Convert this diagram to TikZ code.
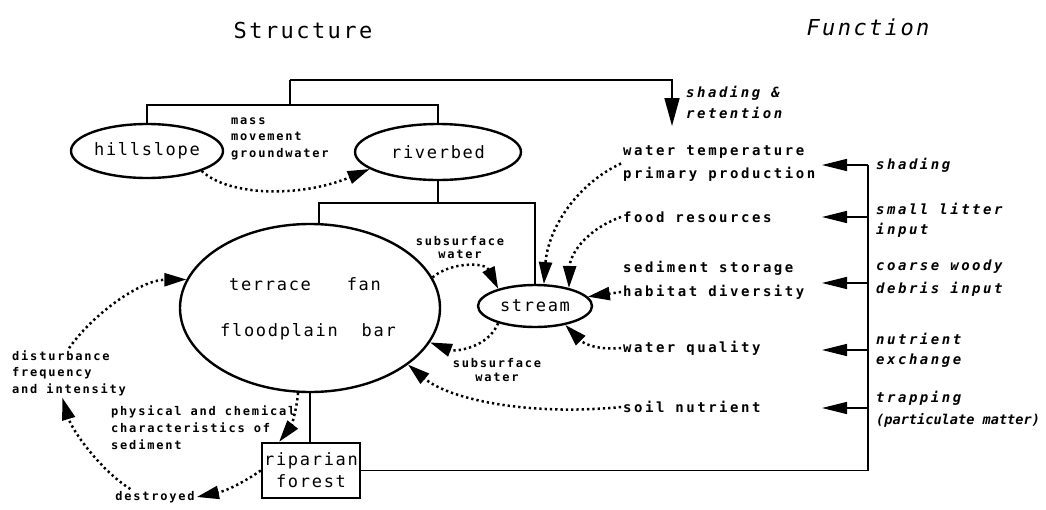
\documentclass[tikz,border=0pt]{standalone}
\usepackage{fontspec}
\usetikzlibrary{shapes.geometric,arrows.meta}
\newfontfamily\fnTitle{DejaVu Sans Mono}[LetterSpace=11]
\newfontfamily\fnBig{DejaVu Sans Mono}[LetterSpace=10]
\newfontfamily\fnMid{DejaVu Sans Mono}[LetterSpace=18]
\newfontfamily\fnTight{DejaVu Sans Mono}[LetterSpace=0]
\newfontfamily\fnSmall{DejaVu Sans Mono}[LetterSpace=15]
\begin{document}
\begin{tikzpicture}[x=1pt,y=-1pt,
  every node/.style={inner sep=2pt},
  line/.style={line width=1.6pt},
  oval/.style={ellipse, draw, line width=2.4pt, inner sep=0pt},
  box/.style={rectangle, draw, line width=2.4pt, inner sep=0pt, align=center},
  dotarrow/.style={line width=2.5pt, dash pattern=on 2.3pt off 3pt,
    -{Triangle[length=22pt,width=13pt]}},
  solidarrow/.style={line width=1.6pt, -{Triangle[length=25pt,width=12pt]}},
  titletext/.style={font=\fontsize{22}{26}\selectfont\fnTitle},
  bigtext/.style={font=\fontsize{17}{22}\selectfont\fnBig},
  midtext/.style={font=\fontsize{14}{23}\selectfont\fnMid\bfseries, align=left},
  ittext/.style={font=\fontsize{14}{21}\selectfont\fnMid\bfseries\itshape, align=left},
  smalltext/.style={font=\fontsize{12}{16.5}\selectfont\fnSmall\bfseries, align=left},
]
\useasboundingbox[fill=white] (0,0) rectangle (1046,509);

% column headings
\node[titletext] (tstruct) at (303,30) {Structure};
\node[titletext, font=\fontsize{22}{26}\selectfont\fnTitle\itshape] (tfunc) at (868,27) {Function};

% structure: landforms
\node[oval, bigtext, minimum width=152pt, minimum height=54pt] (hill) at (147,151) {hillslope};
\node[oval, bigtext, minimum width=166pt, minimum height=56pt] (riv) at (438,152) {riverbed};
\node[oval, minimum width=260pt, minimum height=168pt] (flood) at (310,308) {};
\node[bigtext] (fl1) at (305,284) {terrace\ \ \ fan};
\node[bigtext] (fl2) at (308,332) {floodplain\ \ bar};
\node[oval, bigtext, minimum width=114pt, minimum height=42pt] (stream) at (535,306) {stream};
\node[box, bigtext, minimum width=98pt, minimum height=55pt,
      font=\fontsize{17}{22}\selectfont\fnBig] (forest) at (311,470.5) {riparian\\forest};

% process labels
\node[smalltext, anchor=west] (mass) at (229,138.5) {mass\\movement\\groundwater};
\node[smalltext, align=center, font=\fontsize{12}{13}\selectfont\fnSmall\bfseries] (sub1) at (460,248) {subsurface\\water};
\node[smalltext, align=center, font=\fontsize{12}{14}\selectfont\fnSmall\bfseries] (sub2) at (497,370) {subsurface\\water};
\node[smalltext, anchor=west, font=\fontsize{12}{17}\selectfont\fnSmall\bfseries] (phys) at (109,428) {physical and chemical\\characteristics of\\sediment};
\node[smalltext, anchor=west] (dist) at (10,373) {disturbance\\frequency\\and intensity};
\node[smalltext] (destr) at (155,497) {destroyed};

% function column
\node[midtext, anchor=west] (wt) at (621,163.5) {water temperature\\primary production};
\node[midtext, anchor=west] (food) at (621,217) {food resources};
\node[midtext, anchor=west] (ss) at (621,268) {sediment storage};
\node[midtext, anchor=west] (hd) at (621,292) {habitat diversity};
\node[midtext, anchor=west] (wq) at (621,348) {water quality};
\node[midtext, anchor=west] (soil) at (621,407) {soil nutrient};

% riparian forest effects
\node[ittext, anchor=west] (ret) at (684,102.5) {shading \&\\retention};
\node[ittext, anchor=west] (fa) at (874,165) {shading};
\node[ittext, anchor=west, font=\fontsize{14}{20}\selectfont\fnMid\bfseries\itshape] (fb) at (874,220) {small litter\\input};
\node[ittext, anchor=west, font=\fontsize{14}{23}\selectfont\fnMid\bfseries\itshape] (fc) at (874,278.5) {coarse woody\\debris input};
\node[ittext, anchor=west, font=\fontsize{14}{20}\selectfont\fnMid\bfseries\itshape] (fd) at (874,350) {nutrient\\exchange};
\node[ittext, anchor=west] (fe) at (874,398) {trapping};
\node[anchor=west, font=\fontsize{13.6}{16}\selectfont\fnTight\bfseries\itshape] (fe2) at (874,420) {(particulate matter)};

% hierarchy lines
\coordinate (b1) at (290,105);
\coordinate (t1) at (290,80);
\coordinate (rettip) at (672,126);
\draw[line] (hill.north) |- (b1) -| (riv.north);
\draw[line] (b1) -- (t1);
\draw[line, -{Triangle[length=28pt,width=15pt]}] (t1) -| (rettip);

\coordinate (b2) at (438,203);
\draw[line] (riv.south) -- (b2);
\draw[line] (flood.84) |- (b2) -| (stream.north);
\draw[line] (flood.south) -- (flood.south |- forest.north);

% riparian forest to functions
\coordinate (vt) at (868,165);
\draw[line] (forest.east) -| (vt);
\foreach \y/\n in {165/a,217/b,283/c,350/d,408/e}{
  \coordinate (s\n) at (868,\y);
  \coordinate (e\n) at (822,\y);
  \draw[solidarrow] (s\n) -- (e\n);
}

% dotted process links
\draw[dotarrow] (hill.-20) .. controls (228,196) and (300,198) .. (riv.194);
\draw[dotarrow] (flood.14) .. controls (450,262) and (485,262) .. (stream.155);
\draw[dotarrow] (stream.205) .. controls (488,348) and (455,352) .. (flood.-16);
\draw[dotarrow] (soil.west) .. controls (530,416) and (450,400) .. (flood.-30);
\draw[dotarrow] (wt.west) .. controls (575,185) and (548,230) .. (stream.68);
\draw[dotarrow] (food.west) .. controls (585,230) and (570,255) .. (stream.28);
\draw[dotarrow] (hd.west) -- (stream.10);
\draw[dotarrow] (wq.west) .. controls (600,350) and (585,345) .. (stream.-32);
\draw[dotarrow] (flood.262) .. controls (296,415) and (290,428) .. (forest.138);
\draw[dotarrow] (forest.west) .. controls (250,478) and (230,490) .. (destr.east);
\draw[dotarrow] (destr.162) .. controls (100,470) and (72,430) .. (dist.-105);
\draw[dotarrow] (dist.north) .. controls (92,315) and (140,280) .. (flood.167);
\end{tikzpicture}
\end{document}
